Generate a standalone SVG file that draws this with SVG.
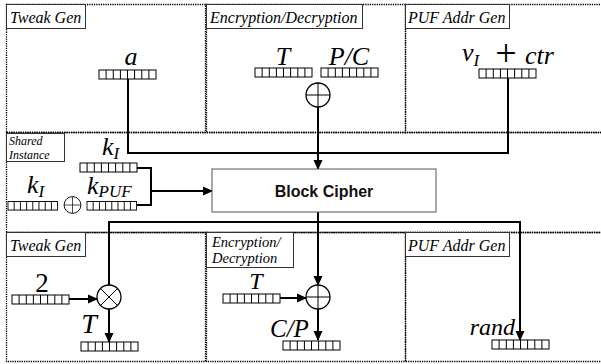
<svg xmlns="http://www.w3.org/2000/svg" xmlns:xlink="http://www.w3.org/1999/xlink" width="601" height="364" viewBox="0 0 601 364">
<style>
.panel{fill:none;stroke:#000;stroke-width:1.3;stroke-dasharray:1.3 1}
.lbl{fill:#fff;stroke:#333;stroke-width:1}
.lt{font-family:"Liberation Serif",serif;font-style:italic;font-size:16px;fill:#000}
.m{font-family:"Liberation Serif",serif;font-style:italic;font-size:26px;fill:#000}
.n{font-family:"Liberation Serif",serif;font-size:26px;fill:#000}
.sub{font-size:17px}
.wire{fill:none;stroke:#000;stroke-width:2}
.op{fill:#fff;stroke:#000;stroke-width:1.3}
.opl{stroke:#000;stroke-width:1}
.bc{fill:#fff;stroke:#555;stroke-width:1}
.bct{font-family:"Liberation Sans",Arial,sans-serif;font-weight:bold;font-size:16px;fill:#111}
</style>
<defs>
<g id="reg">
<rect x="0" y="0" width="57" height="9" fill="#fff" stroke="#000" stroke-width="1"/>
<path d="M7.1,0V9M14.3,0V9M21.4,0V9M28.5,0V9M35.6,0V9M42.8,0V9M49.9,0V9" stroke="#000" stroke-width="1"/>
</g>
<g id="xor">
<circle cx="0" cy="0" r="12" class="op"/>
<path d="M-12,0H12M0,-12V12" class="opl"/>
</g>
<g id="mul">
<circle cx="0" cy="0" r="12" class="op"/>
<path d="M-8.5,-8.5L8.5,8.5M-8.5,8.5L8.5,-8.5" class="opl"/>
</g>
<marker id="ah" markerWidth="10" markerHeight="10" refX="9" refY="5" orient="auto" markerUnits="userSpaceOnUse">
<path d="M0,0.5 L10,5 L0,9.5 z" fill="#000"/>
</marker>
</defs>
<rect width="601" height="364" fill="#fff"/>

<g id="panels">
<rect class="panel" x="6.5" y="4.5" width="199" height="128"/>
<rect class="panel" x="206.5" y="4.5" width="199" height="128"/>
<rect class="panel" x="405.5" y="4.5" width="210" height="128"/>
<rect class="panel" x="6.5" y="132.5" width="610" height="100"/>
<rect class="panel" x="6.5" y="232.5" width="199" height="129"/>
<rect class="panel" x="206.5" y="232.5" width="199" height="129"/>
<rect class="panel" x="405.5" y="232.5" width="210" height="129"/>
</g>

<g id="labels">
<rect class="lbl" x="6.5" y="4.5" width="79" height="24"/>
<text class="lt" x="10" y="23">Tweak Gen</text>
<rect class="lbl" x="206.5" y="4.5" width="156" height="24"/>
<text class="lt" x="210" y="23">Encryption/Decryption</text>
<rect class="lbl" x="405.5" y="4.5" width="104" height="24"/>
<text class="lt" x="408" y="23">PUF Addr Gen</text>
<rect class="lbl" x="6.5" y="133.5" width="58" height="28"/>
<text class="lt" x="9" y="145" style="font-size:12px">Shared</text>
<text class="lt" x="9" y="158.6" style="font-size:12px">Instance</text>
<rect class="lbl" x="6.5" y="232.5" width="79" height="24"/>
<text class="lt" x="10" y="251">Tweak Gen</text>
<rect class="lbl" x="206.5" y="232.5" width="87" height="35"/>
<text class="lt" x="212" y="247" style="font-size:14.5px">Encryption/</text>
<text class="lt" x="212" y="263" style="font-size:14.5px">Decryption</text>
<rect class="lbl" x="405.5" y="232.5" width="104" height="24"/>
<text class="lt" x="408" y="251">PUF Addr Gen</text>
</g>

<g id="connectors">
<path class="wire" d="M128,79V153H508V78"/>
<path class="wire" d="M318,107V169" marker-end="url(#ah)"/>
<path class="wire" d="M137,168H151V205H137M151,191H212" marker-end="url(#ah)"/>
<path class="wire" d="M318,212V285" marker-end="url(#ah)"/>
<path class="wire" d="M109,285V222H520V340" marker-end="url(#ah)"/>
<path class="wire" d="M69,299H97" marker-end="url(#ah)"/>
<path class="wire" d="M109,309V342" marker-end="url(#ah)"/>
<path class="wire" d="M280,298H306" marker-end="url(#ah)"/>
<path class="wire" d="M318,309V340" marker-end="url(#ah)"/>
</g>

<g id="tweak-top">
<text class="m" x="131" y="65" text-anchor="middle">a</text>
<use href="#reg" xlink:href="#reg" x="99" y="70"/>
</g>

<g id="enc-top">
<text class="m" x="283" y="65" text-anchor="middle">T</text>
<use href="#reg" xlink:href="#reg" x="255" y="68"/>
<text class="m" x="349" y="65" text-anchor="middle">P/C</text>
<use href="#reg" xlink:href="#reg" x="321" y="68"/>
<use href="#xor" xlink:href="#xor" x="318" y="95"/>
</g>

<g id="puf-top">
<text class="m" x="462" y="61">v<tspan class="sub" dy="5">I</tspan></text>
<text class="n" x="506" y="66" text-anchor="middle" style="font-size:38px">+</text>
<text class="m" x="525" y="64">ctr</text>
<use href="#reg" xlink:href="#reg" x="479" y="69"/>
</g>

<g id="shared">
<text class="m" x="102" y="155">k<tspan class="sub" dy="4">I</tspan></text>
<use href="#reg" xlink:href="#reg" x="80" y="163"/>
<text class="m" x="27" y="193">k<tspan class="sub" dy="4">I</tspan></text>
<use href="#reg" xlink:href="#reg" transform="translate(8,201.5) scale(0.87,0.95)"/>
<g transform="translate(72.5,205) scale(0.7)"><use href="#xor" xlink:href="#xor"/></g>
<text class="m" x="87" y="194">k<tspan class="sub" dy="3">PUF</tspan></text>
<use href="#reg" xlink:href="#reg" transform="translate(87,201.5) scale(0.87,0.95)"/>
</g>

<g id="block-cipher">
<rect class="bc" x="212" y="169" width="224" height="43"/>
<text class="bct" x="324" y="197" text-anchor="middle">Block Cipher</text>
</g>

<g id="tweak-bottom">
<text class="n" x="42" y="292" text-anchor="middle" style="font-size:27px">2</text>
<use href="#reg" xlink:href="#reg" x="12" y="295"/>
<use href="#mul" xlink:href="#mul" x="109" y="297"/>
<text class="m" x="89" y="333" text-anchor="middle" style="font-size:28px">T</text>
<use href="#reg" xlink:href="#reg" x="81" y="342"/>
</g>

<g id="enc-bottom">
<text class="m" x="256" y="289" text-anchor="middle" style="font-size:24px">T</text>
<use href="#reg" xlink:href="#reg" x="223" y="294"/>
<use href="#xor" xlink:href="#xor" x="318" y="297"/>
<text class="m" x="270" y="337" style="font-size:25px">C/P</text>
<use href="#reg" xlink:href="#reg" x="283" y="341"/>
</g>

<g id="puf-bottom">
<text class="m" x="515" y="335" text-anchor="end" style="font-size:24px">rand</text>
<use href="#reg" xlink:href="#reg" x="492" y="340"/>
</g>
</svg>
